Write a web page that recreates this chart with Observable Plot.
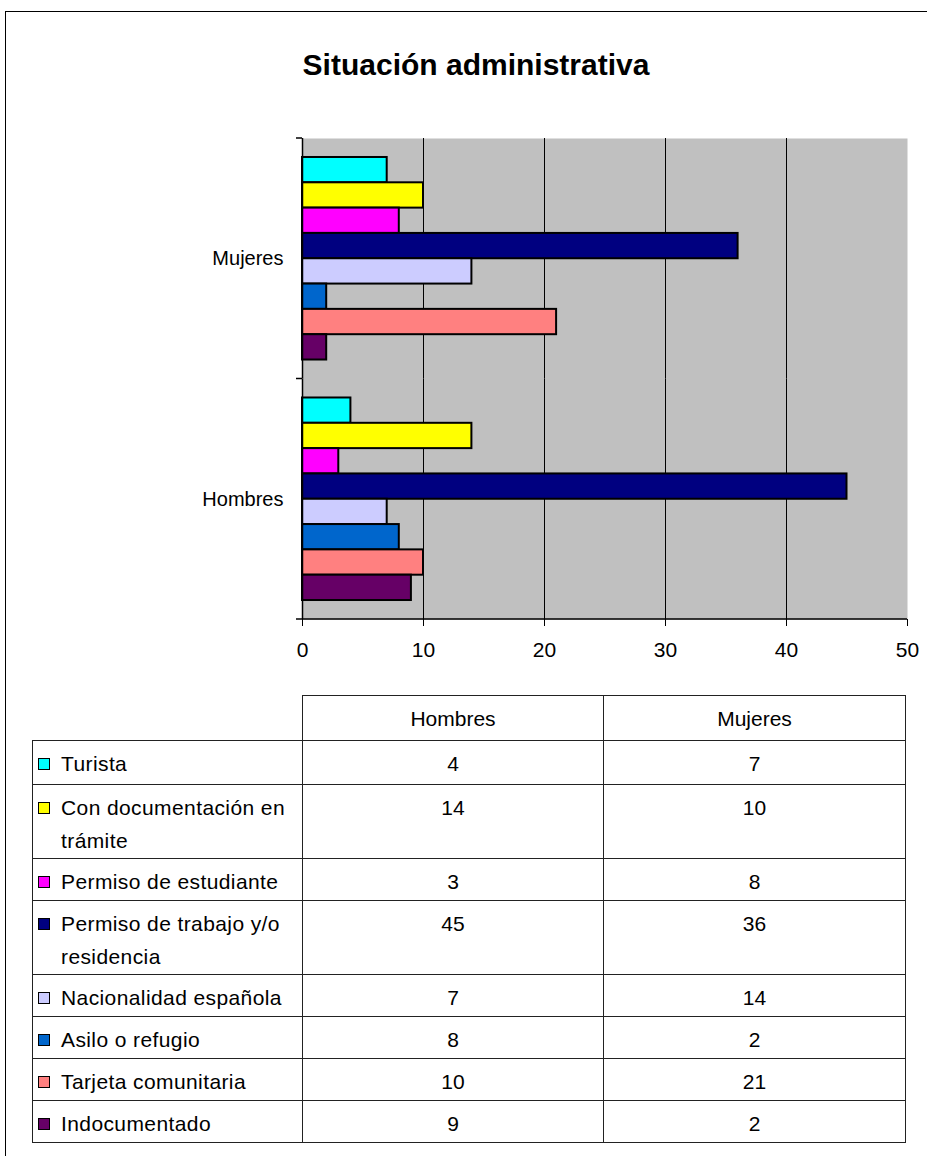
<!DOCTYPE html>
<html>
<head>
<meta charset="utf-8">
<script src="https://cdn.jsdelivr.net/npm/d3@7"></script>
<script src="https://cdn.jsdelivr.net/npm/@observablehq/plot@0.6"></script>
<style>
  body { margin: 0; background: #fff; font-family: "Liberation Sans", Arial, sans-serif; }
  #page { position: relative; width: 927px; height: 1156px; overflow: hidden; background: #fff; }
  #frame { position: absolute; left: 5px; top: 11px; width: 1000px; height: 1200px;
           border-left: 1px solid #000; border-top: 1px solid #000; }
  #title { position: absolute; left: 0; top: 50px; width: 952px; text-align: center;
           font-weight: bold; font-size: 30px; line-height: 30px; color: #000; }
  #chart { position: absolute; left: 0; top: 110px; }
  #tbl { position: absolute; left: 32px; top: 695px; border-collapse: collapse; table-layout: fixed;
         font-size: 21px; letter-spacing: 0.4px; color: #000; }
  #tbl td { border: 1px solid #222; padding: 0; line-height: 33px; vertical-align: top; }
  #tbl td.num { text-align: center; padding-top: 6px; letter-spacing: 0; }
  #tbl td.head { text-align: center; vertical-align: middle; letter-spacing: 0; }
  #tbl td.blank { border-top: none; border-left: none; }
  .lab { display: flex; padding: 6px 0 0 5px; }
  .sw { flex: none; width: 10px; height: 10px; border: 1px solid #000; margin: 11px 11px 0 0; }
</style>
</head>
<body>
<div id="page">
  <div id="frame"></div>
  <div id="title">Situación administrativa</div>
  <div id="chart"></div>
  <table id="tbl"></table>
</div>
<script>
// ---- data ----
const groups = ["Mujeres", "Hombres"];
const categories = [
  "Turista",
  "Con documentación en trámite",
  "Permiso de estudiante",
  "Permiso de trabajo y/o residencia",
  "Nacionalidad española",
  "Asilo o refugio",
  "Tarjeta comunitaria",
  "Indocumentado"
];
const hombres = [4, 14, 3, 45, 7, 8, 10, 9];
const mujeres = [7, 10, 8, 36, 14, 2, 21, 2];
const colors = ["#00FFFF", "#FFFF00", "#FF00FF", "#000080", "#CCCCFF", "#0066CC", "#FF8080", "#660066"];
const xTicks = [0, 10, 20, 30, 40, 50];
const gridTicks = [10, 20, 30, 40];
const tableColumns = ["Hombres", "Mujeres"];

const rows = groups.flatMap(g =>
  categories.map((c, i) => ({ group: g, category: c, value: (g === "Hombres" ? hombres : mujeres)[i] }))
);

// ---- chart ----
const chart = Plot.plot({
  width: 927,
  height: 570,
  marginTop: 28,
  marginBottom: 61,
  marginLeft: 302,
  marginRight: 20,
  style: { fontFamily: "Liberation Sans, Arial, sans-serif", fontSize: "20px", background: "transparent", color: "#000" },
  x: { domain: [0, 50] },
  y: { domain: categories, paddingInner: 0, paddingOuter: 0.75, round: false, axis: null },
  fy: { domain: groups, padding: 0, round: false, label: null },
  color: { domain: categories, range: colors },
  marks: [
    Plot.frame({ fill: "#c0c0c0" }),
    Plot.ruleX(gridTicks, { stroke: "#000", strokeWidth: 1 }),
    Plot.barX(rows, { x: "value", y: "category", fy: "group", fill: "category", stroke: "#000", strokeWidth: 2 }),
    Plot.ruleX([0], { stroke: "#000", strokeWidth: 1.5 }),
    Plot.axisX(xTicks, { anchor: "bottom", tickSize: 7, tickPadding: 16, fontSize: 21, label: null, stroke: "#000" }),
    Plot.axisFy({ anchor: "left", tickSize: 0, tickPadding: 19, fontSize: 20, label: null })
  ]
});
document.getElementById("chart").appendChild(chart);

// axis line along the bottom and Excel-style category ticks at band boundaries
const xs = chart.scale("x");
const fys = chart.scale("fy");
const svg = d3.select(chart);
const x0 = xs.apply(0), x1 = xs.apply(50);
const bounds = groups.map(g => fys.apply(g));
bounds.push(fys.apply(groups[groups.length - 1]) + fys.bandwidth);
const yBottom = bounds[bounds.length - 1];
const g = svg.append("g").attr("stroke", "#000").attr("stroke-width", 1.5);
g.append("line").attr("x1", x0).attr("x2", x1).attr("y1", yBottom).attr("y2", yBottom);
g.selectAll("line.tk").data(bounds).join("line").attr("class", "tk")
  .attr("x1", x0 - 6).attr("x2", x0).attr("y1", d => d).attr("y2", d => d);

// ---- data table ----
const tbl = document.getElementById("tbl");
const colgroup = document.createElement("colgroup");
[270, 301, 302].forEach(w => { const c = document.createElement("col"); c.style.width = w + "px"; colgroup.appendChild(c); });
tbl.appendChild(colgroup);
const hr = document.createElement("tr");
hr.style.height = "45px";
const blank = document.createElement("td"); blank.className = "blank"; hr.appendChild(blank);
tableColumns.forEach(name => { const td = document.createElement("td"); td.className = "head"; td.textContent = name; hr.appendChild(td); });
tbl.appendChild(hr);
const twoLine = new Set(["Con documentación en trámite", "Permiso de trabajo y/o residencia"]);
categories.forEach((c, i) => {
  const tr = document.createElement("tr");
  tr.style.height = (twoLine.has(c) ? 74 : (i === 0 ? 44 : 42)) + "px";
  const td = document.createElement("td");
  const lab = document.createElement("div"); lab.className = "lab";
  const sw = document.createElement("span"); sw.className = "sw"; sw.style.background = colors[i];
  const tx = document.createElement("span"); tx.textContent = c;
  lab.appendChild(sw); lab.appendChild(tx); td.appendChild(lab); tr.appendChild(td);
  [hombres[i], mujeres[i]].forEach(v => { const n = document.createElement("td"); n.className = "num"; n.textContent = v; tr.appendChild(n); });
  tbl.appendChild(tr);
});
</script>
</body>
</html>
